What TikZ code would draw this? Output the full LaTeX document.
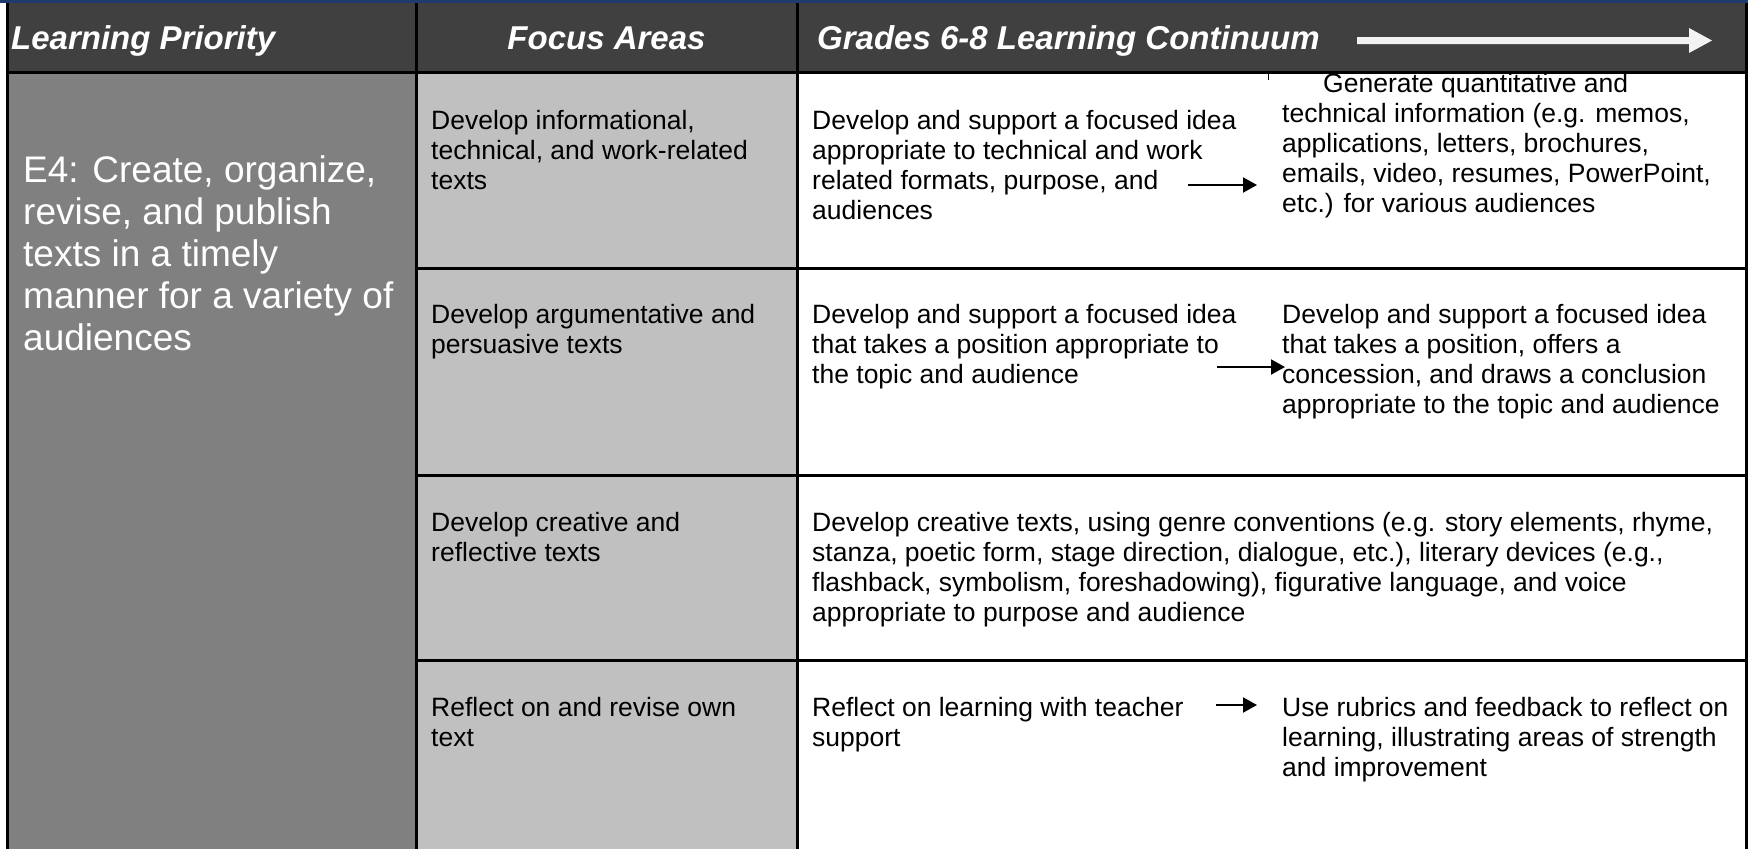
\documentclass[tikz,border=0pt]{standalone}
\usepackage{fontspec}
\setmainfont{Liberation Sans}
\usetikzlibrary{arrows.meta}
\definecolor{hdr}{HTML}{404040}
\definecolor{colA}{HTML}{808080}
\definecolor{colB}{HTML}{C0C0C0}
\definecolor{navy}{HTML}{1F3A6E}
\definecolor{arrowwhite}{HTML}{F2F2F2}
\newcommand\ml[1]{\begin{tabular}[t]{@{}l@{}}#1\end{tabular}}
\tikzset{
  body/.style={anchor=base west, inner sep=0pt, text=black, font=\fontsize{26.5}{30}\selectfont},
  hdrtext/.style={inner sep=0pt, text=white, font=\fontsize{33}{38}\selectfont\bfseries\itshape},
  prio/.style={anchor=base west, inner sep=0pt, text=white, font=\fontsize{37}{42}\selectfont},
  gridline/.style={line width=3pt, black},
  steparrow/.style={line width=2pt, black, -{Triangle[length=14pt,width=15pt]}}
}
\begin{document}
\begin{tikzpicture}[x=1pt,y=-1pt]
\useasboundingbox (0,0) rectangle (1748,849);
\fill[white] (0,0) rectangle (1748,849);
% backgrounds
\fill[navy] (0,0) rectangle (1748,3);
\fill[hdr] (7,3) rectangle (1746,72);
\fill[colA] (7,72) rectangle (416,849);
\fill[colB] (416,72) rectangle (797,849);
% header arrow
\fill[arrowwhite] (1357,37) -- (1689,37) -- (1689,28) -- (1712,40.5) -- (1689,53) -- (1689,44) -- (1357,44) -- cycle;
% grid
\draw[gridline] (7,3) -- (7,849);
\draw[gridline] (416,3) -- (416,849);
\draw[gridline] (797,3) -- (797,849);
\draw[gridline] (1746,3) -- (1746,849);
\draw[gridline] (5.5,72) -- (1747.5,72);
\draw[gridline] (416,268) -- (1747.5,268);
\draw[gridline] (416,475) -- (1747.5,475);
\draw[gridline] (416,660) -- (1747.5,660);
\draw[line width=1pt] (1268,72) -- (1268,80);
% header texts
\node[hdrtext, anchor=base west] (hLP) at (11,49) {Learning Priority};
\node[hdrtext, anchor=base] (hFA) at (606.5,49) {Focus Areas};
\node[hdrtext, anchor=base west] (hGC) at (817,49) {Grades 6-8 Learning Continuum};
% priority
\node[prio] (e4) at (23,182) {\ml{E4: Create, organize,\\revise, and publish\\texts in a timely\\manner for a variety of\\audiences}};
% focus areas
\node[body] (f1) at (431,129) {\ml{Develop informational,\\technical, and work-related\\texts}};
\node[body] (f2) at (431,323) {\ml{Develop argumentative and\\persuasive texts}};
\node[body] (f3) at (431,531) {\ml{Develop creative and\\reflective texts}};
\node[body] (f4) at (431,716) {\ml{Reflect on and revise own\\text}};
% continuum
\node[body] (c1a) at (812,129) {\ml{Develop and support a focused idea\\appropriate to technical and work\\related formats, purpose, and\\audiences}};
\node[body] (c1b) at (1282,92) {\ml{\hspace*{41pt}Generate quantitative and\\technical information (e.g. memos,\\applications, letters, brochures,\\emails, video, resumes, PowerPoint,\\etc.) for various audiences}};
\node[body] (c2a) at (812,323) {\ml{Develop and support a focused idea\\that takes a position appropriate to\\the topic and audience}};
\node[body] (c2b) at (1282,323) {\ml{Develop and support a focused idea\\that takes a position, offers a\\concession, and draws a conclusion\\appropriate to the topic and audience}};
\node[body] (c3) at (812,531) {\ml{Develop creative texts, using genre conventions (e.g. story elements, rhyme,\\stanza, poetic form, stage direction, dialogue, etc.), literary devices (e.g.,\\flashback, symbolism, foreshadowing), figurative language, and voice\\appropriate to purpose and audience}};
\node[body] (c4a) at (812,716) {\ml{Reflect on learning with teacher\\support}};
\node[body] (c4b) at (1282,716) {\ml{Use rubrics and feedback to reflect on\\learning, illustrating areas of strength\\and improvement}};
% arrows
\coordinate (a1s) at (1188,185);
\coordinate (a1e) at (1257,185);
\coordinate (a2s) at (1217,367);
\coordinate (a2e) at (1285,367);
\coordinate (a4s) at (1216,705);
\coordinate (a4e) at (1257,705);
\draw[steparrow] (a1s) -- (a1e);
\draw[steparrow] (a2s) -- (a2e);
\draw[steparrow] (a4s) -- (a4e);
\end{tikzpicture}
\end{document}
